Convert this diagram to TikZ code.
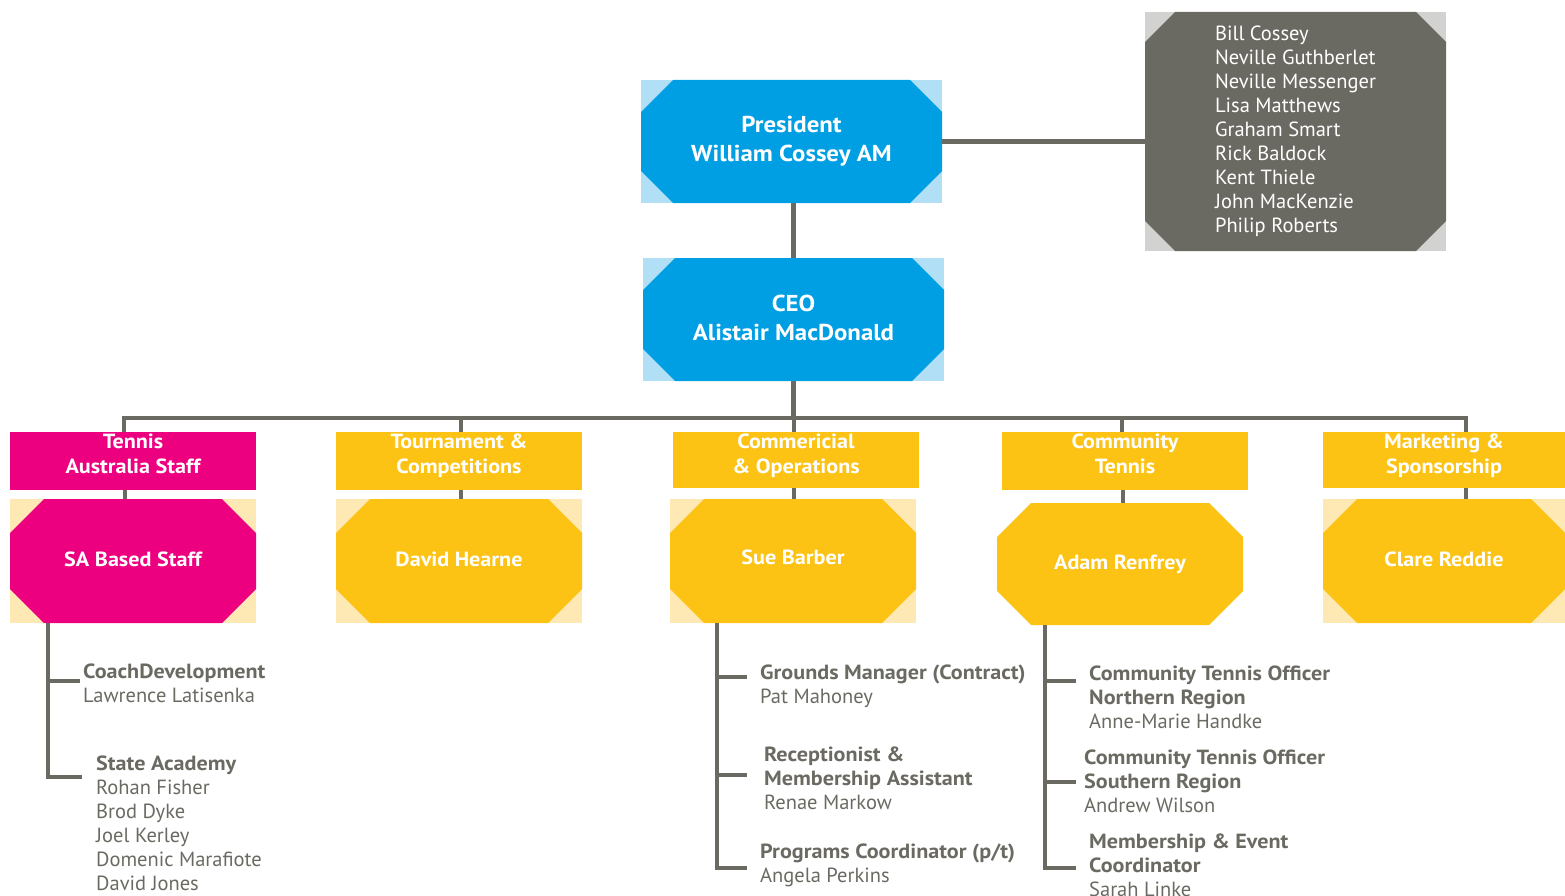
\documentclass[tikz,border=0pt]{standalone}
\usepackage{fontspec}
\setmainfont{PT Sans}[BoldFeatures={FakeStretch=1.08}]
\usetikzlibrary{calc}
\definecolor{tablue}{HTML}{009FE3}
\definecolor{tablight}{HTML}{B1DFF5}
\definecolor{tapink}{HTML}{EC0080}
\definecolor{tayellow}{HTML}{FCC214}
\definecolor{taylight}{HTML}{FEE9B4}
\definecolor{tagrey}{HTML}{6B6A62}
\definecolor{tagreylight}{HTML}{D2D2D0}

\begin{document}
\begin{tikzpicture}[x=1pt,y=-1pt,
octcut/.store in=\octcut, octcut=34pt,
conn/.style={draw=tagrey, line width=4.5pt},
octbox/.style 2 args={rectangle, fill=#1, inner sep=0pt, text=white,
  minimum width=246, minimum height=124, font=\bfseries\fontsize{20.5}{25}\selectfont, align=center,
  path picture={\fill[#2] ([xshift=\octcut]path picture bounding box.north west)
    -- ([xshift=-\octcut]path picture bounding box.north east)
    -- ([yshift=-\octcut]path picture bounding box.north east)
    -- ([yshift=\octcut]path picture bounding box.south east)
    -- ([xshift=-\octcut]path picture bounding box.south east)
    -- ([xshift=\octcut]path picture bounding box.south west)
    -- ([yshift=\octcut]path picture bounding box.south west)
    -- ([yshift=-\octcut]path picture bounding box.north west) -- cycle;}},
topbox/.style={octbox={tablight}{tablue}, octcut=32pt, minimum width=301, minimum height=123,
  font=\bfseries\fontsize{23}{29}\selectfont},
hdr/.style={rectangle, fill=#1, minimum width=246, minimum height=58, inner sep=0pt},
hdrtxt/.style={anchor=north, inner sep=1.5pt, align=center, text=white, font=\bfseries\fontsize{20.5}{25}\selectfont},
staff/.style={anchor=north west, inner sep=0pt, align=left, text=tagrey, font=\fontsize{20.5}{24}\selectfont}]
\useasboundingbox (0,0) rectangle (1565,896);

% top of the tree
\node[topbox] (pres) at (791.5,141.5) {President\\William Cossey AM};
\node[topbox] (ceo) at (793.5,319.5) {\raisebox{4pt}{CEO}\\\raisebox{4pt}{Alistair MacDonald}};
\node[octbox={tagreylight}{tagrey}, octcut=30pt, minimum width=301, minimum height=239,
  font=\fontsize{20.5}{24}\selectfont, align=left] (board) at (1295.5,131.5)
  {Bill Cossey\\Neville Guthberlet\\Neville Messenger\\Lisa Matthews\\Graham Smart\\Rick Baldock\\Kent Thiele\\John MacKenzie\\Philip Roberts};

% departments
\node[hdr=tapink] (tas) at (133,461) {};
\node[hdr=tayellow] (tc) at (459,461) {};
\node[hdr=tayellow, minimum height=56] (co) at (796,460) {};
\node[hdr=tayellow] (ct) at (1125,461) {};
\node[hdr=tayellow, minimum width=242, minimum height=56] (ms) at (1444,460) {};
\node[hdrtxt] (tas-t) at (tas.north) {Tennis\\Australia Staff};
\node[hdrtxt] (tc-t) at (tc.north) {Tournament \&\\Competitions};
\node[hdrtxt] (co-t) at (co.north) {Commericial\\\& Operations};
\node[hdrtxt] (ct-t) at (ct.north) {Community\\Tennis};
\node[hdrtxt] (ms-t) at (ms.north) {Marketing \&\\Sponsorship};

\node[octbox={taylight}{tapink}] (sab) at (133,561) {\raisebox{4pt}{SA Based Staff}};
\node[octbox={taylight}{tayellow}] (dh) at (459,561) {\raisebox{4pt}{David Hearne}};
\node[octbox={taylight}{tayellow}] (sb) at (793,561) {\raisebox{7pt}{Sue Barber}};
\node[octbox={white}{tayellow}, minimum height=122] (ar) at (1120,564) {Adam Renfrey};
\node[octbox={taylight}{tayellow}, minimum width=242] (cr) at (1444,561) {\raisebox{4pt}{Clare Reddie}};

% staff lists
\node[staff] (cd) at (83,664) {\textbf{CoachDevelopment}\\Lawrence Latisenka};
\node[staff] (sa) at (96,756) {\textbf{State Academy}\\Rohan Fisher\\Brod Dyke\\Joel Kerley\\Domenic Marafiote\\David Jones};
\node[staff] (gm) at (760,665) {\textbf{Grounds Manager (Contract)}\\Pat Mahoney};
\node[staff] (rc) at (764,747) {\textbf{Receptionist \&}\\\textbf{Membership Assistant}\\Renae Markow};
\node[staff] (pc) at (760,844) {\textbf{Programs Coordinator (p/t)}\\Angela Perkins};
\node[staff] (cn) at (1089,666) {\textbf{Community Tennis Officer}\\\textbf{Northern Region}\\Anne-Marie Handke};
\node[staff] (cs) at (1084,750) {\textbf{Community Tennis Officer}\\\textbf{Southern Region}\\Andrew Wilson};
\node[staff] (me) at (1089,834) {\textbf{Membership \& Event}\\\textbf{Coordinator}\\Sarah Linke};

% connectors
\coordinate (bus) at (794,418);
\draw[conn] (pres.east) -- (pres.east -| board.west);
\draw[conn] (ceo.north) -- (ceo.north |- pres.south);
\draw[conn] (ceo.south) -- (ceo.south |- bus);
\draw[conn] ([xshift=-9pt]tas.north) |- (bus) -| ([xshift=22pt]ms.north);
\draw[conn] ([xshift=2pt]tc.north) -- ([xshift=2pt]tc.north |- bus);
\draw[conn] ([xshift=-2pt]co.north) -- ([xshift=-2pt]co.north |- bus);
\draw[conn] ([xshift=-3pt]ct.north) -- ([xshift=-3pt]ct.north |- bus);
\draw[conn] ([xshift=-8pt]tas.south) -- ([xshift=-8pt]sab.north);
\draw[conn] ([xshift=2pt]tc.south) -- ([xshift=2pt]dh.north);
\draw[conn] ([xshift=-2pt]co.south) -- ([xshift=-2pt]co.south |- sb.north);
\draw[conn] ([xshift=-2pt]ct.south) -- ([xshift=-2pt]ct.south |- ar.north);
\draw[conn] ([xshift=22pt]ms.south) -- ([xshift=22pt]cr.north);

\coordinate (sa1) at (80,681);
\coordinate (sa2) at (82,777);
\coordinate (sb1) at (747,677);
\coordinate (sb2) at (747,775);
\coordinate (sb3) at (747,868);
\coordinate (ar1) at (1076,681);
\coordinate (ar2) at (1076,782);
\coordinate (ar3) at (1076,868);
\foreach \b in {sa1,sa2} \draw[conn] ([xshift=38pt]sab.south west) |- (\b);
\foreach \b in {sb1,sb2,sb3} \draw[conn] ([xshift=47pt]sb.south west) |- (\b);
\foreach \b in {ar1,ar2,ar3} \draw[conn] ([xshift=48pt]ar.south west) |- (\b);
\end{tikzpicture}
\end{document}
